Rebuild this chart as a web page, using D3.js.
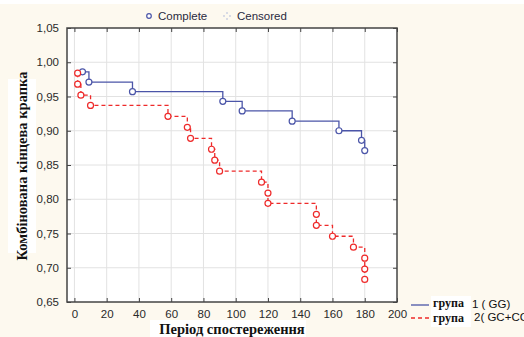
<!DOCTYPE html>
<html>
<head>
<meta charset="utf-8">
<script src="https://cdn.jsdelivr.net/npm/d3@7"></script>
<style>
  html, body { margin: 0; padding: 0; background: #fdf9ef; }
  svg { display: block; }
</style>
</head>
<body>
<div id="chart"></div>
<script>
// Group 1 (GG): event times and survival
const group1Times = [5, 9, 36, 92, 104, 135, 164, 178, 180];
const group1Surv = [0.986, 0.971, 0.957, 0.943, 0.929, 0.914, 0.900, 0.886, 0.871];

// Group 2 (GC+CC)
const group2Times = [2, 2, 4, 10, 58, 70, 72, 85, 87, 90, 116, 120, 120, 150, 150, 160, 173, 180, 180, 180];
const group2Surv = [0.984, 0.968, 0.952, 0.937, 0.921, 0.905, 0.889, 0.873, 0.857, 0.841,
                    0.825, 0.809, 0.794, 0.778, 0.762, 0.746, 0.730, 0.714, 0.698, 0.683];

const xTicks = [0, 20, 40, 60, 80, 100, 120, 140, 160, 180, 200];
const yTicks = [0.65, 0.70, 0.75, 0.80, 0.85, 0.90, 0.95, 1.00, 1.05];
const legendTop = ['Complete', 'Censored'];
const groupNames = ['група', 'група'];
const groupLabels = ['1 ( GG)', '2( GC+CC)'];

const W = 524, H = 337;
const plot = { left: 67, right: 397, top: 28, bottom: 302 };
const blue = '#4b55a8', red = '#ee2a2a';

const svg = d3.select('#chart').append('svg')
    .attr('width', W).attr('height', H);

svg.append('rect').attr('width', W).attr('height', 4).attr('fill', '#fff');

const x = d3.scaleLinear().domain([-4.6, 200]).range([plot.left, plot.right]);
const y = d3.scaleLinear().domain([0.65, 1.05]).range([plot.bottom, plot.top]);

// plot background
svg.append('rect')
    .attr('x', plot.left).attr('y', plot.top)
    .attr('width', plot.right - plot.left).attr('height', plot.bottom - plot.top)
    .attr('fill', '#fff');

// grid
const grid = svg.append('g').attr('stroke', '#e2e2e2').attr('stroke-width', 1);
grid.selectAll('line.v').data(xTicks.slice(0, -1)).join('line')
    .attr('x1', (d) => x(d)).attr('x2', (d) => x(d))
    .attr('y1', plot.top).attr('y2', plot.bottom);
grid.selectAll('line.h').data(yTicks.slice(1, -1)).join('line')
    .attr('y1', (d) => y(d)).attr('y2', (d) => y(d))
    .attr('x1', plot.left).attr('x2', plot.right);

// axes (ticks pointing inward, Statistica style)
const fmtY = (d) => d3.format('.2f')(d).replace('.', ',');
const axisStyle = (g) => {
    g.select('.domain').remove();
    g.selectAll('.tick line').attr('stroke', '#444');
    g.selectAll('.tick text').attr('fill', '#2a2a2a')
        .attr('font-family', 'Arial, "Liberation Sans", sans-serif').attr('font-size', 11.5);
};
svg.append('g').attr('transform', `translate(${plot.left},0)`)
    .call(d3.axisLeft(y).tickValues(yTicks).tickFormat(fmtY).tickSizeInner(-4).tickPadding(8))
    .call(axisStyle);
svg.append('g').attr('transform', `translate(${plot.right},0)`)
    .call(d3.axisRight(y).tickValues(yTicks).tickFormat('').tickSizeInner(-4))
    .call(axisStyle);
svg.append('g').attr('transform', `translate(0,${plot.bottom})`)
    .call(d3.axisBottom(x).tickValues(xTicks).tickFormat(d3.format('d')).tickSizeInner(-4).tickPadding(8))
    .call(axisStyle);
svg.append('g').attr('transform', `translate(0,${plot.top})`)
    .call(d3.axisTop(x).tickValues(xTicks).tickFormat('').tickSizeInner(-4))
    .call(axisStyle);

svg.append('rect')
    .attr('x', plot.left).attr('y', plot.top)
    .attr('width', plot.right - plot.left).attr('height', plot.bottom - plot.top)
    .attr('fill', 'none').attr('stroke', '#444').attr('stroke-width', 1.5);

// survival curves
const line = d3.line().x((d) => x(d[0])).y((d) => y(d[1])).curve(d3.curveStepAfter);
const series = [
    { times: group1Times, surv: group1Surv, color: blue, dash: null },
    { times: group2Times, surv: group2Surv, color: red, dash: '4,3' }
];
series.forEach((s) => {
    const pts = s.times.map((t, i) => [t, s.surv[i]]);
    svg.append('path').datum(pts)
        .attr('d', line)
        .attr('fill', 'none').attr('stroke', s.color).attr('stroke-width', 1.3)
        .attr('stroke-dasharray', s.dash);
    svg.append('g').selectAll('circle').data(pts).join('circle')
        .attr('cx', (d) => x(d[0])).attr('cy', (d) => y(d[1])).attr('r', 3)
        .attr('fill', '#fff').attr('stroke', s.color).attr('stroke-width', 1.2);
});

// top legend
const lg = svg.append('g').attr('font-family', 'Arial, "Liberation Sans", sans-serif')
    .attr('font-size', 11.5).attr('fill', '#2a2a40');
lg.append('circle').attr('cx', 149).attr('cy', 16).attr('r', 2.3)
    .attr('fill', '#fff').attr('stroke', blue).attr('stroke-width', 1.2);
lg.append('text').attr('x', 158).attr('y', 20).text(legendTop[0]);
[[-3, 0], [3, 0], [0, -3], [0, 3]].forEach((p) => {
    lg.append('circle').attr('cx', 227 + p[0]).attr('cy', 16 + p[1]).attr('r', 0.8).attr('fill', '#a9b4d8');
});
lg.append('text').attr('x', 237).attr('y', 20).text(legendTop[1]);

// y label
svg.append('rect').attr('x', 8).attr('y', 79).attr('width', 28).attr('height', 174).attr('fill', '#fff');
svg.append('text')
    .attr('transform', `translate(27,${(79 + 253) / 2}) rotate(-90)`)
    .attr('text-anchor', 'middle')
    .attr('font-family', '"Liberation Serif", "Times New Roman", serif')
    .attr('font-weight', 'bold').attr('font-size', 14.5).attr('fill', '#111')
    .text('Комбінована кінцева крапка');

// x label
svg.append('rect').attr('x', 150).attr('y', 320).attr('width', 156).attr('height', 17).attr('fill', '#fff');
svg.append('text')
    .attr('x', 232).attr('y', 334).attr('text-anchor', 'middle')
    .attr('font-family', '"Liberation Serif", "Times New Roman", serif')
    .attr('font-weight', 'bold').attr('font-size', 14.5).attr('fill', '#111')
    .text('Період спостереження');

// bottom-right legend
svg.append('rect').attr('x', 431).attr('y', 296).attr('width', 40).attr('height', 31).attr('fill', '#fff');
const rows = [{ yy: 305, color: blue, dash: null }, { yy: 318, color: red, dash: '4,3' }];
rows.forEach((r, i) => {
    svg.append('line').attr('x1', 411).attr('x2', 429).attr('y1', r.yy).attr('y2', r.yy)
        .attr('stroke', r.color).attr('stroke-width', 1.3).attr('stroke-dasharray', r.dash);
    svg.append('text').attr('x', 433).attr('y', r.yy + 2 + i * 2)
        .attr('font-family', '"Liberation Serif", "Times New Roman", serif')
        .attr('font-weight', 'bold').attr('font-size', 12).attr('fill', '#111')
        .text(groupNames[i]);
    svg.append('text').attr('x', 472 + i * 2).attr('y', r.yy + 3)
        .attr('font-family', 'Arial, "Liberation Sans", sans-serif')
        .attr('font-size', 11.5).attr('fill', '#111')
        .text(groupLabels[i]);
});
</script>
</body>
</html>
